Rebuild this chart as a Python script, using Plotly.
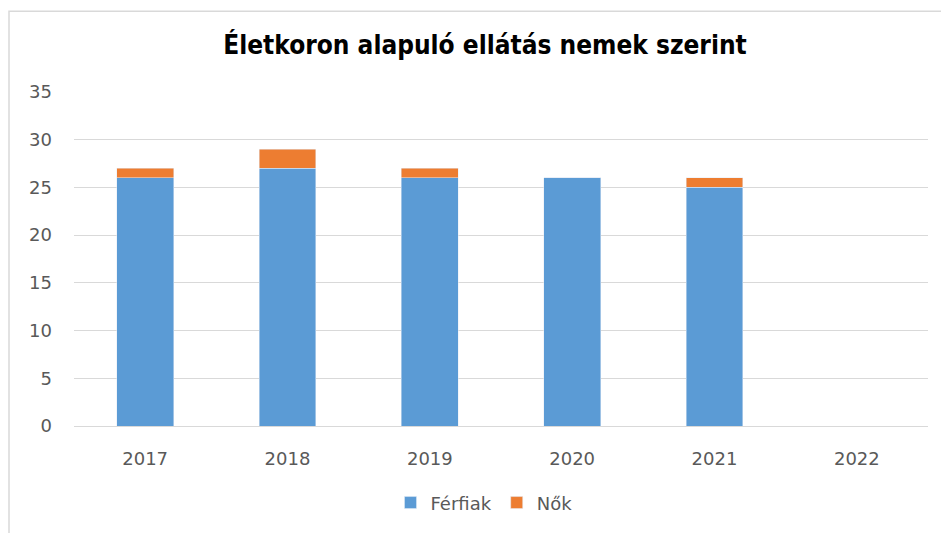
import plotly.graph_objects as go

years = ["2017", "2018", "2019", "2020", "2021", "2022"]
ferfiak = [26, 27, 26, 26, 25, 0]
nok = [1, 2, 1, 0, 1, 0]

TITLE_FONT = "DejaVu Sans Condensed, Liberation Sans Narrow, sans-serif"
FONT = "DejaVu Sans, sans-serif"

fig = go.Figure()
fig.add_trace(go.Bar(x=years, y=ferfiak, name="Férfiak", marker=dict(color="#5B9BD5")))
fig.add_trace(go.Bar(x=years, y=nok, name="Nők", marker=dict(color="#ED7D31")))

# page body has an 8px margin: figure pixel = reference pixel - 8
OFF = 8
W, H = 949 - OFF, 533 - OFF
L, T = 74 - OFF, 92 - OFF
R = W - (928 - OFF)
B = H - (431 - OFF)
pw, ph = W - L - R, H - T - B

def px(x):
    return (x - OFF - L) / pw

def py(y):
    return (431 - y) / ph

fig.update_layout(
    width=W, height=H,
    barmode="stack", bargap=0.6,
    margin=dict(l=L, r=R, t=T, b=B),
    paper_bgcolor="white", plot_bgcolor="white",
    font=dict(family=FONT, size=18, color="#595959"),
    title=dict(text="<b>Életkoron alapuló ellátás nemek szerint</b>",
               x=px(485), xref="paper", xanchor="center",
               y=1 - (45 - OFF) / H, yanchor="middle",
               font=dict(size=26, color="#000000", family=TITLE_FONT)),
    showlegend=True,
    legend=dict(orientation="h", x=px(484), xanchor="center",
                y=py(509), yanchor="middle", font=dict(size=18, color="#595959"),
                traceorder="normal"),
    yaxis=dict(range=[0, 35], dtick=5, showgrid=True, gridcolor="#d9d9d9",
               gridwidth=1, zeroline=False, ticks="", ticklabelstandoff=21,
               tickfont=dict(size=18, color="#595959")),
    xaxis=dict(showline=True, linecolor="#d9d9d9", linewidth=1, ticks="",
               ticklabelstandoff=16,
               tickfont=dict(size=18, color="#595959")),
    shapes=[dict(type="rect", xref="paper", yref="paper",
                 x0=px(OFF + 1), x1=px(960), y0=py(545), y1=py(10),
                 line=dict(color="#d9d9d9", width=1.5), fillcolor="rgba(0,0,0,0)",
                 layer="below")],
)

fig.write_html("out.html")
